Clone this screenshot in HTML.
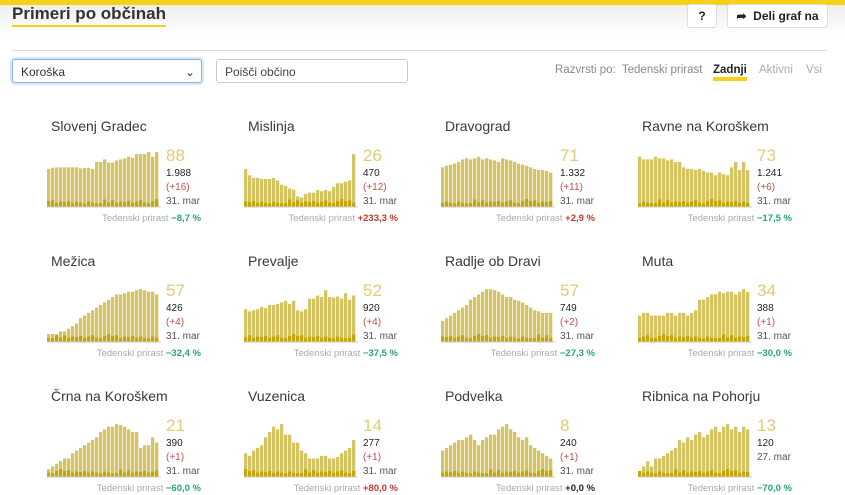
<!DOCTYPE html>
<html><head><meta charset="utf-8"><style>
body{margin:0;width:845px;height:495px;overflow:hidden;background:#fff;font-family:"Liberation Sans",sans-serif;position:relative}
.topbar{position:absolute;left:0;top:0;width:845px;height:5px;background:#f7d117}
.shadow{position:absolute;left:0;top:5px;width:845px;height:30px;background:linear-gradient(#eee,#fff)}
h1{position:absolute;left:12px;top:3px;margin:0;font-size:17px;font-weight:bold;color:#333;font-family:"Liberation Sans Narrow","Liberation Sans",sans-serif;border-bottom:2px solid #f7d117;line-height:22px}
.btn{position:absolute;top:4px;height:22px;border:1px solid #ddd;border-radius:3px;background:#fff;font-size:12px;font-weight:bold;color:#222;line-height:22px;text-align:center}
.hr{position:absolute;left:12px;top:50px;width:815px;height:1px;background:#ddd}
.sel{position:absolute;left:12px;top:59px;width:190px;height:24px;border:1px solid #8ab4e8;border-radius:3px;box-shadow:0 0 0 2px #d6e6fb;font-size:12px;line-height:24px;padding-left:8px;box-sizing:border-box;color:#333}
.inp{position:absolute;left:216px;top:59px;width:192px;height:24px;border:1px solid #ccc;border-radius:3px;font-size:12px;line-height:24px;padding-left:8px;box-sizing:border-box;color:#444}
.sort{position:absolute;top:64px;font-size:11.5px;color:#888}
.t{position:absolute;font-size:14px;color:#3a3a3a}
.big{position:absolute;font-size:17px;color:#e0cc76}
.s{position:absolute;font-size:10px;color:#222}
.ted{position:absolute;font-size:9.5px;color:#aaa;text-align:right;width:200px}
.ted b{font-weight:bold}
svg{position:absolute}
</style></head><body>
<div class="topbar"></div><div class="shadow"></div>
<h1>Primeri po občinah</h1>
<div class="btn" style="left:687px;width:28px">?</div>
<div class="btn" style="left:727px;width:99px">&#10150;&nbsp; Deli graf na</div>
<div class="hr"></div>
<div class="sel">Koroška<span style="position:absolute;right:6px;top:0;font-size:12px">&#8964;</span></div>
<div class="inp">Poišči občino</div>
<div class="sort" style="left:555px">Razvrsti po:&nbsp; Tedenski prirast</div>
<div class="sort" style="left:713px;color:#222;font-weight:bold;border-bottom:4px solid #f7d117;line-height:13px">Zadnji</div>
<div class="sort" style="left:759px;color:#aaa">Aktivni</div>
<div class="sort" style="left:806px;color:#aaa">Vsi</div>
<div id="c"></div>
<script>
var D=[
["Slovenj Gradec","88","1.988","(+16)","31. mar","−8,7 %",0,[.72,.74,.75,.75,.75,.75,.75,.75,.73,.74,.74,.72,.85,.85,.9,.84,.84,.88,.9,.92,.95,.93,1,1,1,1.04,.95,1.04]],
["Mislinja","26","470","(+12)","31. mar","+233,3 %",1,[.72,.6,.55,.55,.53,.53,.53,.55,.5,.42,.4,.35,.33,.2,.18,.25,.27,.27,.32,.3,.32,.3,.38,.45,.45,.48,.5,1]],
["Dravograd","71","1.332","(+11)","31. mar","+2,9 %",1,[.75,.78,.8,.82,.85,.9,.92,.9,.92,.95,.9,.92,.9,.88,.85,.92,.9,.88,.85,.82,.8,.78,.75,.72,.7,.7,.68,.65]],
["Ravne na Koroškem","73","1.241","(+6)","31. mar","−17,5 %",0,[.95,.9,.9,.9,.95,.92,.92,.88,.9,.85,.85,.75,.72,.72,.7,.72,.68,.65,.65,.6,.65,.62,.6,.75,.85,.7,.85,.7]],
["Mežica","57","426","(+4)","31. mar","−32,4 %",0,[.15,.15,.12,.2,.2,.25,.3,.35,.45,.5,.55,.6,.65,.7,.75,.8,.85,.9,.9,.92,.95,.95,.98,1,.98,.95,.95,.9]],
["Prevalje","52","920","(+4)","31. mar","−37,5 %",0,[.62,.58,.6,.62,.66,.64,.7,.7,.72,.75,.78,.72,.78,.6,.58,.62,.82,.82,.88,.85,.98,.85,.84,.86,.82,.92,.8,.88]],
["Radlje ob Dravi","57","749","(+2)","31. mar","−27,3 %",0,[.4,.45,.5,.55,.6,.65,.7,.8,.85,.9,.95,1,1,.98,.95,.9,.85,.85,.8,.78,.75,.7,.65,.6,.58,.55,.55,.55]],
["Muta","34","388","(+1)","31. mar","−30,0 %",0,[.5,.55,.55,.5,.5,.5,.5,.55,.55,.5,.55,.55,.5,.55,.6,.8,.8,.85,.9,.9,.95,.92,.95,.95,.9,.95,1,.95]],
["Črna na Koroškem","21","390","(+1)","31. mar","−60,0 %",0,[.15,.2,.25,.3,.35,.35,.45,.5,.55,.6,.65,.7,.75,.85,.9,.95,.95,1,.98,.95,.9,.85,.85,.55,.6,.6,.75,.65]],
["Vuzenica","14","277","(+1)","31. mar","+80,0 %",1,[.45,.4,.5,.55,.6,.75,.85,.95,.9,1,.8,.8,.65,.65,.5,.45,.35,.35,.35,.4,.4,.35,.35,.38,.45,.5,.55,.7]],
["Podvelka","8","240","(+1)","31. mar","+0,0 %",2,[.5,.55,.6,.65,.7,.7,.75,.8,.7,.6,.7,.75,.8,.8,.9,.95,1,.9,.85,.75,.7,.75,.6,.55,.5,.45,.4,.35]],
["Ribnica na Pohorju","13","120","27. mar","","−70,0 %",0,[.1,.2,.3,.2,.35,.35,.4,.45,.5,.55,.7,.65,.75,.7,.8,.85,.75,.8,.9,.95,.85,.95,1,.9,.95,.85,.95,.9]]];
var h="",dk=[.12,.15,.05,.1,.08,.12,.05,.1,.05,.02,.1,.05,.03,.04,.18,.06,.15,.05,.1,.08,.12,.05,.1,.15,.05,.03,.12,.2];
D.forEach(function(d,i){var x=47+(i%4)*197,y=118+Math.floor(i/4)*135;
h+='<div class="t" style="left:'+(x+4)+'px;top:'+y+'px">'+d[0]+'</div>';
var s='<svg style="left:'+x+'px;top:'+(y+28)+'px" width="115" height="62">';
d[7].forEach(function(v,j){var H=v/1.04*55,bx=j*4;s+='<rect x="'+bx+'" y="'+(61-H)+'" width="3.3" height="'+H+'" fill="#d4c463"/>';var k=dk[(j+i*3)%28]*25+3;s+='<rect x="'+bx+'" y="'+(61-k)+'" width="3.3" height="'+k+'" fill="#c2a60c"/>';});
s+='<rect x="0" y="60.5" width="114" height="1" fill="#ccc"/></svg>';h+=s;
h+='<div class="big" style="left:'+(x+119)+'px;top:'+(y+28)+'px">'+d[1]+'</div>';
h+='<div class="s" style="left:'+(x+119)+'px;top:'+(y+50)+'px">'+d[2]+'</div>';
var c3=d[4]?'#c0504d':'#555';
h+='<div class="s" style="left:'+(x+119)+'px;top:'+(y+64)+'px;color:'+c3+'">'+d[3]+'</div>';
if(d[4])h+='<div class="s" style="left:'+(x+119)+'px;top:'+(y+78)+'px;color:#555">'+d[4]+'</div>';
var col=["#27a86a","#c0392b","#222"][d[6]];
h+='<div class="ted" style="left:'+(x-46)+'px;top:'+(y+95)+'px">Tedenski prirast <b style="color:'+col+'">'+d[5]+'</b></div>';
});
document.getElementById("c").innerHTML=h;
</script>
</body></html>
